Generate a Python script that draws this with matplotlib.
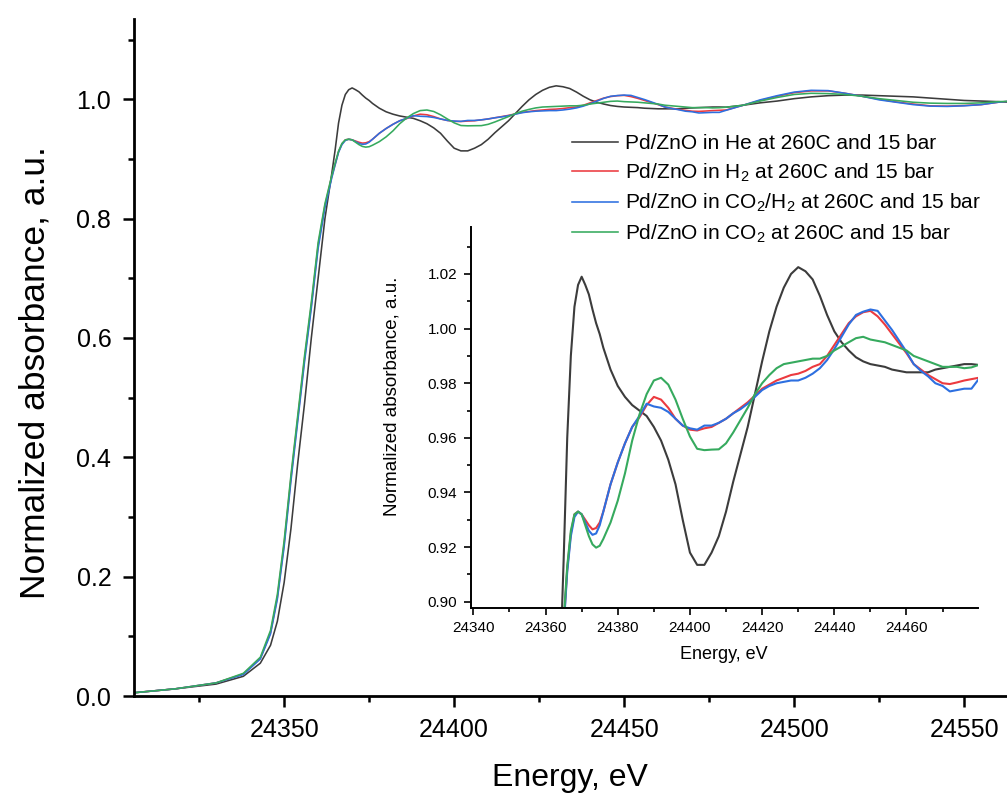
import matplotlib
matplotlib.use("Agg")
import matplotlib.pyplot as plt
from matplotlib.ticker import MultipleLocator, FormatStrFormatter

plt.rcParams['font.family'] = ['Liberation Sans', 'DejaVu Sans']
plt.rcParams['mathtext.fontset'] = 'custom'
plt.rcParams['mathtext.rm'] = 'Liberation Sans'
plt.rcParams['mathtext.it'] = 'Liberation Sans:italic'

# ---------------- data ----------------
energy = [24305, 24318, 24330, 24338, 24343, 24346, 24348, 24350, 24352, 24354,
          24356, 24358, 24360, 24362, 24364, 24365, 24366, 24367, 24368, 24369,
          24370, 24371, 24372, 24373, 24374, 24375, 24376, 24378, 24380, 24382,
          24384, 24386, 24388, 24390, 24392, 24394, 24396, 24398, 24400, 24402,
          24404, 24406, 24408, 24410, 24412, 24414, 24416, 24418, 24420, 24422,
          24424, 24426, 24428, 24430, 24432, 24434, 24436, 24438, 24440, 24442,
          24444, 24446, 24448, 24450, 24452, 24454, 24456, 24458, 24460, 24462,
          24464, 24466, 24468, 24470, 24472, 24474, 24476, 24478, 24480, 24485,
          24490, 24495, 24500, 24505, 24510, 24515, 24520, 24525, 24530, 24535,
          24540, 24545, 24550, 24555, 24560, 24563]

he = [0.005, 0.012, 0.020, 0.033, 0.055, 0.085, 0.125, 0.19, 0.28, 0.39,
      0.49, 0.60, 0.70, 0.80, 0.875, 0.915, 0.96, 0.99, 1.008, 1.016,
      1.019, 1.016, 1.0125, 1.007, 1.002, 0.998, 0.993, 0.985, 0.979, 0.975,
      0.972, 0.970, 0.968, 0.964, 0.959, 0.952, 0.943, 0.930, 0.918, 0.9135,
      0.9135, 0.918, 0.924, 0.933, 0.944, 0.954, 0.964, 0.976, 0.988, 0.999,
      1.008, 1.015, 1.020, 1.0225, 1.021, 1.018, 1.012, 1.005, 0.999, 0.995,
      0.992, 0.9895, 0.988, 0.987, 0.9865, 0.986, 0.985, 0.9845, 0.984, 0.984,
      0.984, 0.984, 0.985, 0.9855, 0.986, 0.9865, 0.987, 0.987, 0.9867, 0.990,
      0.994, 0.997, 1.001, 1.004, 1.006, 1.007, 1.007, 1.006, 1.005, 1.004,
      1.002, 1.000, 0.998, 0.997, 0.996, 0.995]

h2 = [0.005, 0.012, 0.022, 0.037, 0.063, 0.106, 0.165, 0.255, 0.365, 0.465,
      0.565, 0.655, 0.755, 0.822, 0.870, 0.891, 0.912, 0.925, 0.932, 0.933,
      0.932, 0.930, 0.928, 0.9265, 0.927, 0.929, 0.933, 0.943, 0.951, 0.958,
      0.964, 0.9675, 0.972, 0.975, 0.974, 0.971, 0.967, 0.9645, 0.963, 0.9627,
      0.9635, 0.964, 0.9655, 0.967, 0.969, 0.971, 0.973, 0.9755, 0.978, 0.9795,
      0.981, 0.982, 0.983, 0.9835, 0.9845, 0.986, 0.987, 0.990, 0.994, 0.998,
      1.002, 1.0045, 1.006, 1.0065, 1.0045, 1.0015, 0.998, 0.9945, 0.991, 0.987,
      0.985, 0.983, 0.9815, 0.980, 0.9797, 0.9803, 0.981, 0.9815, 0.982, 0.990,
      0.998, 1.005, 1.011, 1.014, 1.014, 1.010, 1.005, 1.000, 0.9955, 0.992,
      0.989, 0.9885, 0.9895, 0.991, 0.995, 0.9965]

co2h2 = [0.005, 0.012, 0.022, 0.036, 0.062, 0.104, 0.162, 0.25, 0.36, 0.46,
         0.56, 0.65, 0.75, 0.818, 0.868, 0.890, 0.911, 0.924, 0.931, 0.933,
         0.932, 0.929, 0.926, 0.9245, 0.925, 0.928, 0.933, 0.943, 0.951, 0.958,
         0.964, 0.968, 0.9725, 0.9715, 0.971, 0.9695, 0.967, 0.9645, 0.9635, 0.963,
         0.9645, 0.9645, 0.9655, 0.967, 0.969, 0.9705, 0.9725, 0.975, 0.9775, 0.979,
         0.980, 0.9805, 0.981, 0.981, 0.982, 0.9835, 0.9855, 0.9885, 0.9925, 0.997,
         1.0015, 1.005, 1.0062, 1.007, 1.0065, 1.003, 0.9995, 0.9955, 0.9915, 0.987,
         0.9845, 0.9825, 0.980, 0.979, 0.977, 0.9775, 0.978, 0.978, 0.9815, 0.990,
         0.999, 1.006, 1.012, 1.015, 1.0145, 1.010, 1.005, 0.999, 0.995, 0.991,
         0.9885, 0.988, 0.989, 0.991, 0.995, 0.9965]

co2 = [0.005, 0.012, 0.022, 0.038, 0.065, 0.11, 0.17, 0.26, 0.37, 0.47,
       0.57, 0.66, 0.76, 0.825, 0.872, 0.893, 0.913, 0.926, 0.932, 0.933,
       0.932, 0.928, 0.924, 0.921, 0.9198, 0.9205, 0.923, 0.929, 0.937, 0.947,
       0.959, 0.9685, 0.976, 0.981, 0.982, 0.9795, 0.974, 0.967, 0.9605, 0.956,
       0.9555, 0.9557, 0.9558, 0.958, 0.962, 0.9665, 0.971, 0.976, 0.980, 0.983,
       0.9855, 0.987, 0.9875, 0.988, 0.9885, 0.989, 0.989, 0.990, 0.992, 0.9935,
       0.995, 0.9965, 0.997, 0.996, 0.9955, 0.995, 0.994, 0.993, 0.992, 0.990,
       0.989, 0.988, 0.987, 0.986, 0.986, 0.986, 0.9855, 0.9858, 0.9867, 0.990,
       0.997, 1.003, 1.008, 1.010, 1.0095, 1.008, 1.005, 1.001, 0.998, 0.995,
       0.9935, 0.993, 0.993, 0.994, 0.996, 0.9965]

labels = ['Pd/ZnO in He at 260C and 15 bar',
          'Pd/ZnO in H$_2$ at 260C and 15 bar',
          'Pd/ZnO in CO$_2$/H$_2$ at 260C and 15 bar',
          'Pd/ZnO in CO$_2$ at 260C and 15 bar']
colors = ['#3c3c3c', '#ec3a3f', '#2d6fe0', '#36aa5e']
series = [he, h2, co2h2, co2]

# ---------------- figure ----------------
W, H = 1007, 793
fig = plt.figure(figsize=(W / 100, H / 100), dpi=100)

def fx(px):
    return px / W

def fy(py):
    return 1 - py / H

# main axes
ax = fig.add_axes([fx(133.5), fy(696), fx(1007) - fx(133.5), fy(19.3) - fy(696)])
for s, c, lab in zip(series, colors, labels):
    ax.plot(energy, s, color=c, lw=1.15, label=lab)
ax.set_xlim(24305.7, 24562.6)
ax.set_ylim(0, 1.134)
for sp in ['top', 'right']:
    ax.spines[sp].set_visible(False)
for sp in ['left', 'bottom']:
    ax.spines[sp].set_linewidth(2.0)
ax.xaxis.set_major_locator(MultipleLocator(50))
ax.xaxis.set_minor_locator(MultipleLocator(25))
ax.yaxis.set_major_locator(MultipleLocator(0.2))
ax.yaxis.set_minor_locator(MultipleLocator(0.1))
ax.yaxis.set_major_formatter(FormatStrFormatter('%.1f'))
ax.tick_params(which='major', direction='out', length=8, width=1.8, labelsize=18, pad=8)
ax.tick_params(which='minor', direction='out', length=4.5, width=1.8)
ax.set_xlabel('Energy, eV', fontsize=23, va='baseline')
ax.xaxis.set_label_coords(0.5, -(786 - 696) / (696 - 19.3))
ax.set_ylabel('Normalized absorbance, a.u.', fontsize=25.5, va='center')
ax.yaxis.set_label_coords((35 - 133.5) / (1007 - 133.5), (696 - 373) / (696 - 19.3))

leg = ax.legend(loc='upper left', bbox_to_anchor=(fx(572), fy(134)),
                bbox_transform=fig.transFigure, frameon=False, fontsize=15,
                handlelength=2.2, handletextpad=0.35, labelspacing=0.4,
                borderpad=0, borderaxespad=0)
leg.set_zorder(10)

# inset axes
ins = fig.add_axes([fx(470.5), fy(608.3), fx(977.6) - fx(470.5), fy(227) - fy(608.3)])
ins.set_facecolor('none')
for s, c in zip(series, colors):
    ins.plot(energy, s, color=c, lw=1.5)
ins.set_xlim(24339.2, 24479.7)
ins.set_ylim(0.8976, 1.0372)
for sp in ['top', 'right']:
    ins.spines[sp].set_visible(False)
for sp in ['left', 'bottom']:
    ins.spines[sp].set_linewidth(1.4)
ins.xaxis.set_major_locator(MultipleLocator(20))
ins.xaxis.set_minor_locator(MultipleLocator(10))
ins.yaxis.set_major_locator(MultipleLocator(0.02))
ins.yaxis.set_minor_locator(MultipleLocator(0.01))
ins.yaxis.set_major_formatter(FormatStrFormatter('%.2f'))
ins.xaxis.set_major_formatter(FormatStrFormatter('%d'))
ins.tick_params(which='major', direction='out', length=5, width=1.2, labelsize=11, pad=4.5)
ins.tick_params(which='minor', direction='out', length=3, width=1.2)
ins.set_xlabel('Energy, eV', fontsize=13, va='top')
ins.xaxis.set_label_coords(0.5, -(646 - 608.3) / (608.3 - 227))
ins.set_ylabel('Normalized absorbance, a.u.', fontsize=13.5, va='center')
ins.yaxis.set_label_coords((392 - 470.5) / (977.6 - 470.5), (608.3 - 396) / (608.3 - 227))

fig.savefig('out.png', dpi=100)
